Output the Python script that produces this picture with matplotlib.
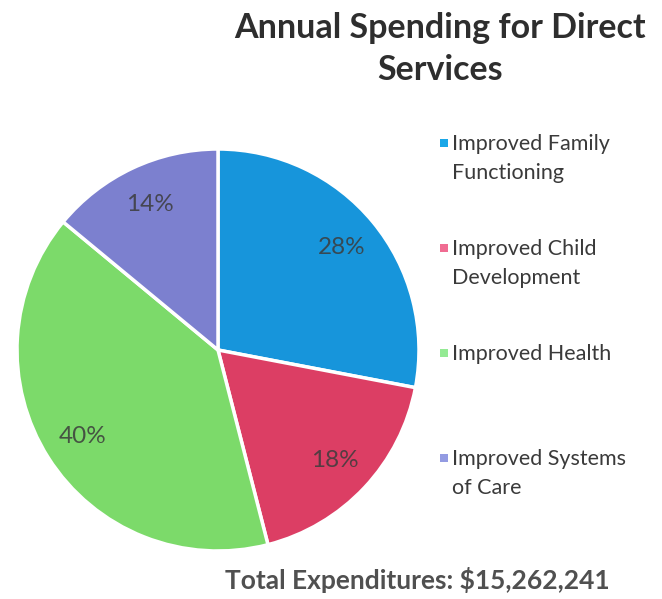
import numpy as np
import matplotlib.pyplot as plt
from matplotlib.patches import Rectangle

# Data
categories = ['Improved Family\nFunctioning', 'Improved Child\nDevelopment',
              'Improved Health', 'Improved Systems\nof Care']
shares = [28, 18, 40, 14]
pct_labels = ['28%', '18%', '40%', '14%']
pie_colors = ['#1795DB', '#DC3E64', '#7CDA6A', '#7C80CF']
legend_colors = ['#1AA7E8', '#F06C92', '#94EA94', '#939BE2']
title = 'Annual Spending for Direct\nServices'
total_text = 'Total Expenditures: $15,262,241'

plt.rcParams['font.family'] = ['Lato', 'DejaVu Sans']

W, H = 662, 599
fig = plt.figure(figsize=(W / 100, H / 100), dpi=100)

# pie: centre (218, 350) px, radius ~203 px
cx, cy, r = 218, 350, 203
ax = fig.add_axes([(cx - r) / W, (H - cy - r) / H, 2 * r / W, 2 * r / H])
wedges, texts = ax.pie(shares, colors=pie_colors, startangle=90, counterclock=False,
                       wedgeprops=dict(edgecolor='white', linewidth=2.5))
for w, lab in zip(wedges, pct_labels):
    ang = np.deg2rad((w.theta1 + w.theta2) / 2)
    ax.text(0.8 * np.cos(ang), 0.8 * np.sin(ang), lab, ha='center', va='center',
            fontsize=17.5, color='#3C3C3C', alpha=0.85)
ax.set_xlim(-1.01, 1.01)
ax.set_ylim(-1.01, 1.01)
ax.set_aspect('equal')
ax.axis('off')

# title
fig.text(440 / W, 1 - 49 / H, title, ha='center', va='center', fontsize=24.5,
         fontweight='bold', color='#2E2E2E', linespacing=1.42)

# legend (manual, markers aligned with first text line)
marker_y = [143, 248, 353, 458]
for lab, col, my in zip(categories, legend_colors, marker_y):
    fig.patches.append(Rectangle((440 / W, 1 - (my + 4) / H), 8 / W, 8 / H,
                                 transform=fig.transFigure, facecolor=col, edgecolor='none'))
    fig.text(452 / W, 1 - (my - 9) / H, lab, ha='left', va='top', fontsize=15.5,
             color='#3A3A3A', linespacing=1.55)

# total
fig.text(417 / W, 1 - 580 / H, total_text, ha='center', va='center', fontsize=19,
         fontweight='bold', color='#505050')

fig.savefig('out.png', dpi=100)
